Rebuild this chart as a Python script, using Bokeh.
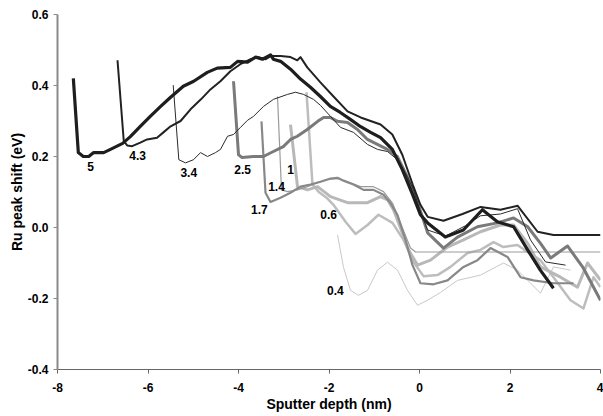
from bokeh.plotting import figure
from bokeh.models import FixedTicker, NumeralTickFormatter, ColumnDataSource
from bokeh.core.properties import value
from bokeh.embed import file_html
from bokeh.resources import INLINE

# ---- data (sputter depth in nm, Ru peak shift in eV) ----
x_5 = [-7.65, -7.54, -7.43, -7.31, -7.20, -6.98, -6.83, -6.56, -6.39, -6.17, -5.95, -5.72, -5.50, -5.22, -4.99,
       -4.69, -4.47, -4.18, -4.02, -3.80, -3.62, -3.47, -3.29, -3.23, -3.07, -2.85, -2.63, -2.41, -2.19, -1.97,
       -1.75, -1.52, -1.30, -1.08, -0.86, -0.60, -0.38, -0.15, 0.02, 0.18, 0.57, 0.97, 1.39, 1.72, 2.08, 2.39,
       2.67, 2.96]
y_5 = [0.420, 0.211, 0.200, 0.200, 0.211, 0.211, 0.220, 0.237, 0.256, 0.285, 0.313, 0.341, 0.367, 0.398, 0.412,
       0.437, 0.449, 0.451, 0.468, 0.466, 0.480, 0.474, 0.486, 0.474, 0.468, 0.446, 0.418, 0.395, 0.369, 0.341,
       0.324, 0.304, 0.284, 0.268, 0.253, 0.220, 0.163, 0.092, 0.036, 0.013, -0.027, -0.007, 0.050, 0.016, 0.002,
       -0.063, -0.120, -0.171]

x_43 = [-6.674, -6.535, -6.46, -6.35, -6.17, -6.02, -5.80, -5.66, -5.50, -5.28, -5.06, -4.83, -4.62, -4.40, -4.18,
        -3.96, -3.73, -3.56, -3.40, -3.29, -3.07, -2.85, -2.70, -2.63, -2.48, -2.19, -1.90, -1.59, -1.30, -0.86,
        -0.60, -0.38, -0.15, 0.02, 0.18, 0.53, 0.95, 1.35, 1.79, 2.17, 2.61, 2.96, 4.0]
y_43 = [0.471, 0.243, 0.231, 0.229, 0.239, 0.248, 0.253, 0.268, 0.285, 0.300, 0.333, 0.361, 0.389, 0.412, 0.440,
        0.460, 0.474, 0.480, 0.474, 0.483, 0.483, 0.480, 0.471, 0.480, 0.451, 0.409, 0.369, 0.327, 0.310, 0.290,
        0.262, 0.205, 0.121, 0.064, 0.030, 0.019, 0.038, 0.058, 0.050, 0.061, -0.012, -0.021, -0.021]

x_34 = [-5.443, -5.319, -5.171, -4.994, -4.840, -4.685, -4.508, -4.398, -4.243, -4.110, -3.956, -3.801, -3.669,
        -3.448, -3.227, -2.917, -2.740, -2.564, -2.343, -2.188, -1.967, -1.746, -1.459, -1.149, -0.928, -0.707,
        -0.486, -0.265, -0.133, 0.022, 0.177, 0.575, 1.017, 1.348, 1.790, 2.166, 2.453, 2.785, 3.227]
y_34 = [0.401, 0.191, 0.182, 0.191, 0.211, 0.200, 0.211, 0.220, 0.257, 0.262, 0.282, 0.302, 0.313,
        0.341, 0.361, 0.375, 0.381, 0.375, 0.361, 0.344, 0.313, 0.282, 0.268, 0.234, 0.220, 0.214,
        0.191, 0.143, 0.106, 0.044, -0.007, -0.024, 0.005, 0.033, 0.038, 0.053, -0.035, -0.097, -0.106]

x_25 = [-4.11, -4.00, -3.92, -3.67, -3.45, -3.23, -3.01, -2.85, -2.70, -2.48, -2.25, -2.12, -1.97, -1.81, -1.59,
        -1.37, -1.15, -0.93, -0.71, -0.49, -0.27, -0.04, 0.18, 0.53, 0.84, 1.28, 1.72, 2.08, 2.39, 2.67, 2.90,
        3.27, 3.62, 4.0]
y_25 = [0.412, 0.205, 0.197, 0.200, 0.200, 0.214, 0.228, 0.248, 0.257, 0.276, 0.299, 0.310, 0.310, 0.299, 0.296,
        0.276, 0.248, 0.234, 0.220, 0.200, 0.143, 0.070, -0.015, -0.058, -0.027, 0.002, 0.013, 0.027, 0.002,
        -0.044, -0.086, -0.052, -0.114, -0.205]

x_17 = [-3.492, -3.403, -3.293, -3.072, -2.851, -2.630, -2.409, -2.188, -1.967, -1.812, -1.680, -1.459, -1.238,
        -1.017, -0.796, -0.641, -0.486, -0.309, -0.155, 0.022, 0.309, 0.619, 0.972, 1.282, 1.569, 1.945, 2.232,
        2.519, 2.961, 3.403]
y_17 = [0.299, 0.098, 0.072, 0.084, 0.098, 0.115, 0.121, 0.129, 0.138, 0.140, 0.132, 0.121, 0.106,
        0.106, 0.092, 0.069, 0.035, -0.035, -0.106, -0.157, -0.160, -0.149, -0.111, -0.092, -0.058, -0.083, -0.140,
        -0.149, -0.157, -0.157]

x_14 = [-3.138, -3.050, -2.917, -2.696, -2.475, -2.254, -2.033, -1.812, -1.591, -1.304, -1.017, -0.796, -0.597,
        -0.376, -0.199, -0.088, 4.0]
y_14 = [0.369, 0.106, 0.101, 0.106, 0.115, 0.126, 0.135, 0.138, 0.129, 0.115, 0.115, 0.101, 0.069,
        -0.001, -0.058, -0.069, -0.069]

x_10 = [-2.851, -2.696, -2.475, -2.254, -1.967, -1.591, -1.149, -0.862, -0.707, -0.575, -0.420, -0.243, -0.044,
        0.243, 0.619, 0.972, 1.348, 1.790, 2.077, 2.387, 2.674, 3.116, 3.492, 3.713, 4.0]
y_10 = [0.290, 0.115, 0.106, 0.115, 0.087, 0.070, 0.070, 0.087, 0.078, 0.050, -0.001, -0.063, -0.106,
        -0.092, -0.055, -0.035, -0.012, 0.007, 0.007, -0.044, -0.111, -0.140, -0.168, -0.100, -0.148]

x_06 = [-2.497, -2.365, -2.232, -2.055, -1.901, -1.635, -1.414, -1.149, -0.906, -0.597, -0.354, -0.133, 0.088,
        0.398, 0.685, 1.061, 1.348, 1.635, 1.856, 2.166, 2.387, 2.674, 2.961, 3.337, 3.624, 3.845, 4.0]
y_06 = [0.381, 0.121, 0.101, 0.084, 0.064, 0.016, -0.018, 0.007, 0.036, 0.013, -0.035, -0.097, -0.137,
        -0.134, -0.111, -0.072, -0.063, -0.041, -0.055, -0.049, -0.069, -0.092, -0.140, -0.205, -0.228, -0.140,
        -0.168]

x_04 = [-1.812, -1.680, -1.525, -1.348, -1.149, -0.928, -0.707, -0.486, -0.265, -0.044, 0.177, 0.464, 0.840,
        1.348, 1.856, 2.166, 2.387, 2.674, 2.961, 3.337]
y_04 = [-0.021, -0.112, -0.177, -0.191, -0.177, -0.120, -0.098, -0.120, -0.177, -0.219, -0.205, -0.183, -0.149,
        -0.134, -0.100, -0.120, -0.148, -0.185, -0.111, -0.120]

label_text = ["5", "4.3", "3.4", "2.5", "1", "1.4", "1.7", "0.6", "0.4"]
label_x = [-7.27, -6.23, -5.10, -3.91, -2.85, -3.16, -3.54, -2.01, -1.86]
label_y = [0.171, 0.202, 0.154, 0.163, 0.163, 0.115, 0.050, 0.036, -0.177]

x_ticks = [-8, -6, -4, -2, 0, 2, 4]
y_ticks = [-0.4, -0.2, 0.0, 0.2, 0.4, 0.6]

FONT = "Liberation Sans"

p = figure(width=603, height=416, x_range=(-8, 4), y_range=(-0.4, 0.6),
           output_backend="svg", toolbar_location=None,
           min_border_left=57, min_border_right=3, min_border_top=14, min_border_bottom=47)
p.outline_line_color = None
p.grid.visible = False
p.background_fill_color = "white"
p.border_fill_color = "white"

series = [
    (x_04, y_04, "#c8c8c8", 1.0),
    (x_06, y_06, "#bdbdbd", 2.5),
    (x_10, y_10, "#b8b8b8", 3.0),
    (x_14, y_14, "#9a9a9a", 1.2),
    (x_17, y_17, "#888888", 2.2),
    (x_25, y_25, "#7a7a7a", 3.0),
    (x_34, y_34, "#2a2a2a", 1.0),
    (x_43, y_43, "#222222", 2.0),
    (x_5, y_5, "#1e1e1e", 3.2),
]
for xs, ys, c, w in series:
    p.line(xs, ys, line_color=c, line_width=w, line_join="round")

src = ColumnDataSource(dict(x=label_x, y=label_y, t=label_text))
p.text(x="x", y="y", text="t", source=src, text_font=value(FONT), text_font_style="bold",
       text_font_size="12px", text_align="center", text_baseline="middle", text_color="black")

p.xaxis.ticker = FixedTicker(ticks=x_ticks)
p.yaxis.ticker = FixedTicker(ticks=y_ticks)
p.xaxis.formatter = NumeralTickFormatter(format="0")
p.yaxis.formatter = NumeralTickFormatter(format="0.0")
p.xaxis.axis_label = "Sputter depth (nm)"
p.yaxis.axis_label = "Ru peak shift (eV)"
for ax in (p.xaxis, p.yaxis):
    ax.axis_label_text_font = FONT
    ax.axis_label_text_font_style = "bold"
    ax.axis_label_text_font_size = "14px"
    ax.axis_label_text_color = "black"
    ax.major_label_text_font = FONT
    ax.major_label_text_font_style = "bold"
    ax.major_label_text_font_size = "12px"
    ax.major_label_text_color = "black"
    ax.minor_tick_line_color = None
    ax.major_tick_in = 0
    ax.major_tick_out = 4
p.xaxis.axis_line_color = "#666666"
p.xaxis.major_tick_line_color = "#666666"
p.yaxis.axis_line_color = "#8a8a8a"
p.yaxis.major_tick_line_color = "#8a8a8a"
p.yaxis.axis_line_width = 2
p.xaxis.major_label_standoff = 9
p.xaxis.axis_label_standoff = 1
p.yaxis.major_label_standoff = 5
p.yaxis.axis_label_standoff = 0

open("out.html", "w").write(file_html(p, INLINE))
